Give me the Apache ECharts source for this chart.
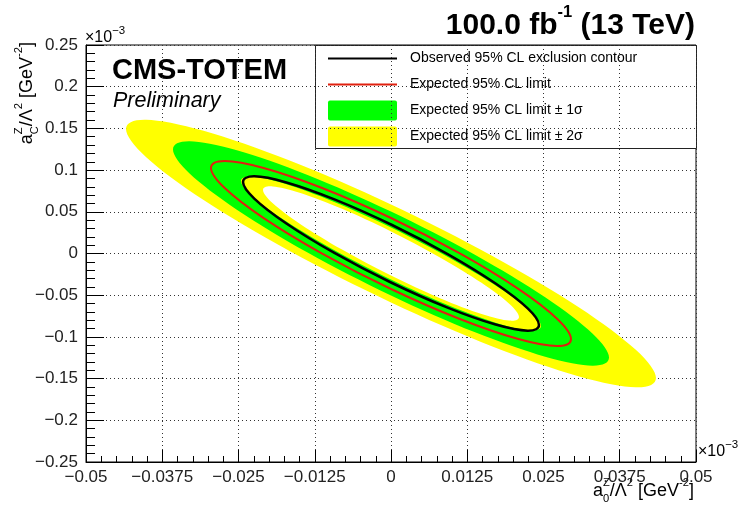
<!DOCTYPE html>
<html>
<head>
<meta charset="utf-8">
<title>aZ0 / aZC exclusion contours</title>
<script src="https://cdn.jsdelivr.net/npm/echarts@6.0.0/dist/echarts.min.js"></script>
<style>
  html, body { margin: 0; padding: 0; background: #ffffff; }
  #chart { width: 738px; height: 507px; }
</style>
</head>
<body>
<div id="chart"></div>
<script>
// ---- data (axis units: x10^-3 GeV^-2) ----
const xTickLabels = ['\u22120.05', '\u22120.0375', '\u22120.025', '\u22120.0125', '0', '0.0125', '0.025', '0.0375', '0.05'];
const yTickLabels = ['\u22120.25', '\u22120.2', '\u22120.15', '\u22120.1', '\u22120.05', '0', '0.05', '0.1', '0.15', '0.2', '0.25'];

const legendLabels = [
  'Observed 95% CL exclusion contour',
  'Expected 95% CL limit',
  'Expected 95% CL limit \u00b1 1\u03c3',
  'Expected 95% CL limit \u00b1 2\u03c3'
];

// contour points [a0Z/L^2, aCZ/L^2]
const band2SigmaOuter = [
  [0.04344, -0.14928], [0.04013, -0.11544], [0.03072, -0.06402], [0.01662, -0.00285],
  [0, 0.05875], [-0.01662, 0.11141], [-0.03072, 0.14710], [-0.04013, 0.16040],
  [-0.04344, 0.14928], [-0.04013, 0.11544], [-0.03072, 0.06402], [-0.01662, 0.00285],
  [0, -0.05875], [0.01662, -0.11141], [0.03072, -0.14710], [0.04013, -0.16040]
];
const band1SigmaOuter = [
  [0.03574, -0.12470], [0.03302, -0.09594], [0.02527, -0.05257], [0.01368, -0.00119],
  [0, 0.05036], [-0.01368, 0.09425], [-0.02527, 0.12379], [-0.03302, 0.13448],
  [-0.03574, 0.12470], [-0.03302, 0.09594], [-0.02527, 0.05257], [-0.01368, 0.00119],
  [0, -0.05036], [0.01368, -0.09425], [0.02527, -0.12379], [0.03302, -0.13448]
];
const expectedContour = [
  [0.02951, -0.10252], [0.02726, -0.07843], [0.02087, -0.04239], [0.01129, 0.00010],
  [0, 0.04257], [-0.01129, 0.07856], [-0.02087, 0.10259], [-0.02726, 0.11101],
  [-0.02951, 0.10252], [-0.02726, 0.07843], [-0.02087, 0.04239], [-0.01129, -0.00010],
  [0, -0.04257], [0.01129, -0.07856], [0.02087, -0.10259], [0.02726, -0.11101]
];
const observedContour = [
  [0.02426, -0.08573], [0.02241, -0.06590], [0.01715, -0.03603], [0.00928, -0.00069],
  [0, 0.03477], [-0.00928, 0.06493], [-0.01715, 0.08521], [-0.02241, 0.09252],
  [-0.02426, 0.08573], [-0.02241, 0.06590], [-0.01715, 0.03603], [-0.00928, 0.00069],
  [0, -0.03477], [0.00928, -0.06493], [0.01715, -0.08521], [0.02241, -0.09252]
];
const band1SigmaInner = [
  [0.02459, -0.08693], [0.02272, -0.06838], [0.01739, -0.03942], [0.00941, -0.00446],
  [0, 0.03118], [-0.00941, 0.06208], [-0.01739, 0.08352], [-0.02272, 0.09224],
  [-0.02459, 0.08693], [-0.02272, 0.06838], [-0.01739, 0.03942], [-0.00941, 0.00446],
  [0, -0.03118], [0.00941, -0.06208], [0.01739, -0.08352], [0.02272, -0.09224]
];
const band2SigmaInner = [
  [0.02098, -0.07614], [0.01938, -0.06025], [0.01484, -0.03519], [0.00803, -0.00477],
  [0, 0.02638], [-0.00803, 0.05351], [-0.01484, 0.07249], [-0.01938, 0.08045],
  [-0.02098, 0.07614], [-0.01938, 0.06025], [-0.01484, 0.03519], [-0.00803, 0.00477],
  [0, -0.02638], [0.00803, -0.05351], [0.01484, -0.07249], [0.01938, -0.08045]
];

// ---- axis ranges ----
const X_MIN = -0.05, X_MAX = 0.05, X_STEP = 0.0125;
const Y_MIN = -0.25, Y_MAX = 0.25, Y_STEP = 0.05;

// ---- styling ----
const FAMILY = '"Liberation Sans", Arial, Helvetica, sans-serif';
const YELLOW = '#ffff00', GREEN = '#00ff00', RED = '#e0200f', BLACK = '#000000';
const GRID = { left: 86, top: 45, width: 610, height: 417 };

// closed Catmull-Rom spline through pixel points, as SVG path data
function closedSpline(pts) {
  const n = pts.length;
  const f = v => v.toFixed(2);
  let d = 'M' + f(pts[0][0]) + ' ' + f(pts[0][1]);
  for (let i = 0; i < n; i++) {
    const p0 = pts[(i - 1 + n) % n], p1 = pts[i], p2 = pts[(i + 1) % n], p3 = pts[(i + 2) % n];
    const c1x = p1[0] + (p2[0] - p0[0]) / 6, c1y = p1[1] + (p2[1] - p0[1]) / 6;
    const c2x = p2[0] - (p3[0] - p1[0]) / 6, c2y = p2[1] - (p3[1] - p1[1]) / 6;
    d += 'C' + f(c1x) + ' ' + f(c1y) + ' ' + f(c2x) + ' ' + f(c2y) + ' ' + f(p2[0]) + ' ' + f(p2[1]);
  }
  return d + 'Z';
}

// filled band between an outer and an inner contour (inner traced backwards -> hole)
function bandSeries(name, outer, inner, color) {
  return {
    type: 'custom', name: name, coordinateSystem: 'cartesian2d',
    data: [[0, 0]], silent: true, animation: false,
    renderItem: function (params, api) {
      const o = outer.map(p => api.coord(p));
      const h = inner.slice().reverse().map(p => api.coord(p));
      return {
        type: 'path',
        shape: { pathData: closedSpline(o) + ' ' + closedSpline(h) },
        style: { fill: color, stroke: null, lineWidth: 0 }
      };
    }
  };
}

function contourSeries(name, pts, color, width) {
  return {
    type: 'custom', name: name, coordinateSystem: 'cartesian2d',
    data: [[0, 0]], silent: true, animation: false,
    renderItem: function (params, api) {
      return {
        type: 'path',
        shape: { pathData: closedSpline(pts.map(p => api.coord(p))) },
        style: { fill: null, stroke: color, lineWidth: width }
      };
    }
  };
}

// ---- text with super/subscripts ----
const mctx = document.createElement('canvas').getContext('2d');
function fontStr(size, weight, style) {
  return (style || 'normal') + ' ' + (weight || 'normal') + ' ' + size + 'px ' + FAMILY;
}
function textW(s, font) { mctx.font = font; return mctx.measureText(s).width; }
function textEl(t, x, y, font, align) {
  return {
    type: 'text', x: x, y: y, silent: true,
    style: {
      text: t, font: font, fill: '#000',
      textAlign: align || 'left', align: align || 'left',
      textVerticalAlign: 'middle', verticalAlign: 'middle'
    }
  };
}
// parts: {t, pos:'base'|'sup'|'sub'} or [supPart, subPart] stacked; origin = start of baseline
function scriptRun(parts, fs, weight, ratio) {
  const small = fs * (ratio || 0.62);
  const items = [];
  let x = 0;
  const place = (t, pos, x0) => {
    const size = pos === 'base' ? fs : small;
    const font = fontStr(size, weight);
    const y = pos === 'base' ? -0.35 * fs : (pos === 'sup' ? -0.78 * fs : 0.12 * fs);
    items.push(textEl(t, x0, y, font));
    return textW(t, font);
  };
  parts.forEach(p => {
    if (Array.isArray(p)) {
      const w1 = place(p[0].t, 'sup', x), w2 = place(p[1].t, 'sub', x);
      x += Math.max(w1, w2);
    } else {
      x += place(p.t, p.pos || 'base', x);
    }
  });
  return { items: items, width: x };
}

const xTitle = scriptRun([
  { t: 'a' }, [{ t: 'Z' }, { t: '0' }], { t: '/\u039b' }, { t: '2', pos: 'sup' },
  { t: ' [GeV' }, { t: '-2', pos: 'sup' }, { t: ']' }
], 18);
const yTitle = scriptRun([
  { t: 'a' }, [{ t: 'Z' }, { t: 'C' }], { t: '/\u039b' }, { t: '2', pos: 'sup' },
  { t: ' [GeV' }, { t: '-2', pos: 'sup' }, { t: ']' }
], 18);
const expo = () => scriptRun([{ t: '\u00d710' }, { t: '\u22123', pos: 'sup' }], 16, 'normal', 0.72);
const expoTop = expo(), expoRight = expo();
const lumi = scriptRun([{ t: '100.0 fb' }, { t: '-1', pos: 'sup' }, { t: ' (13 TeV)' }], 30, 'bold', 0.55);

// ---- legend box ----
const LEG = { x: 315, y: 45, w: 381, h: 103 };
const legRows = [58.5, 84.5, 110.5, 136.5];
const legendEls = [
  { type: 'rect', shape: { x: LEG.x + 0.5, y: LEG.y + 0.5, width: LEG.w, height: LEG.h },
    style: { fill: '#fff', stroke: '#222', lineWidth: 1 } },
  { type: 'line', shape: { x1: 328, y1: legRows[0], x2: 397, y2: legRows[0] }, style: { stroke: BLACK, lineWidth: 2 } },
  { type: 'line', shape: { x1: 328, y1: legRows[1], x2: 397, y2: legRows[1] }, style: { stroke: RED, lineWidth: 2 } },
  { type: 'rect', shape: { x: 328, y: legRows[2] - 10, width: 69, height: 20, r: 2 }, style: { fill: GREEN } },
  { type: 'rect', shape: { x: 328, y: legRows[3] - 10, width: 69, height: 20, r: 2 }, style: { fill: YELLOW } }
];
legendLabels.forEach((t, i) => legendEls.push(textEl(t, 410, legRows[i], fontStr(14))));

const graphics = [
  { type: 'group', z: 100, children: legendEls },
  { type: 'group', z: 100, children: [
      textEl('CMS-TOTEM', 112, 71, fontStr(29, 'bold')),
      textEl('Preliminary', 113, 101, fontStr(21.5, 'normal', 'italic'))
  ] },
  { type: 'group', z: 100, x: 695 - lumi.width, y: 36, children: lumi.items },
  { type: 'group', z: 100, x: 694 - xTitle.width, y: 497, children: xTitle.items },
  { type: 'group', z: 100, x: 33, y: 42 + yTitle.width, rotation: Math.PI / 2, children: yTitle.items },
  { type: 'group', z: 100, x: 85, y: 43, children: expoTop.items },
  { type: 'group', z: 100, x: 698, y: 457, children: expoRight.items }
];

const labelFmt = (labels, min, step) => v => {
  const i = Math.round((v - min) / step);
  return labels[i] !== undefined ? labels[i] : '';
};

const axisCommon = {
  type: 'value',
  axisLine: { show: true, onZero: false, lineStyle: { color: '#000', width: 1 } },
  splitLine: { show: true, lineStyle: { color: '#333', width: 1, type: [1, 3] } },
  minorSplitLine: { show: false }
};

const option = {
  animation: false,
  backgroundColor: '#ffffff',
  grid: Object.assign({ show: true, borderColor: '#000', borderWidth: 1, backgroundColor: 'transparent',
                        containLabel: false, outerBoundsMode: 'none' }, GRID),
  xAxis: Object.assign({}, axisCommon, {
    min: X_MIN, max: X_MAX, interval: X_STEP,
    axisTick: { show: true, inside: true, length: 12, lineStyle: { color: '#000' } },
    minorTick: { show: true, splitNumber: 5, length: 6, lineStyle: { color: '#000' } },
    axisLabel: { show: true, formatter: labelFmt(xTickLabels, X_MIN, X_STEP), fontSize: 17,
                 fontFamily: FAMILY, color: '#222', margin: 7, showMinLabel: true, showMaxLabel: true,
                 hideOverlap: false }
  }),
  yAxis: Object.assign({}, axisCommon, {
    min: Y_MIN, max: Y_MAX, interval: Y_STEP,
    axisTick: { show: true, inside: true, length: 18, lineStyle: { color: '#000' } },
    minorTick: { show: true, splitNumber: 5, length: 9, lineStyle: { color: '#000' } },
    axisLabel: { show: true, formatter: labelFmt(yTickLabels, Y_MIN, Y_STEP), fontSize: 17,
                 fontFamily: FAMILY, color: '#222', margin: 8, showMinLabel: true, showMaxLabel: true,
                 hideOverlap: false }
  }),
  series: [
    bandSeries('Expected 95% CL limit \u00b1 2\u03c3', band2SigmaOuter, band2SigmaInner, YELLOW),
    bandSeries('Expected 95% CL limit \u00b1 1\u03c3', band1SigmaOuter, band1SigmaInner, GREEN),
    contourSeries('Expected 95% CL limit', expectedContour, RED, 2),
    contourSeries('Observed 95% CL exclusion contour', observedContour, BLACK, 2.5)
  ],
  graphic: graphics
};

const chart = echarts.init(document.getElementById('chart'), null, { renderer: 'canvas' });
chart.setOption(option);
</script>
</body>
</html>
